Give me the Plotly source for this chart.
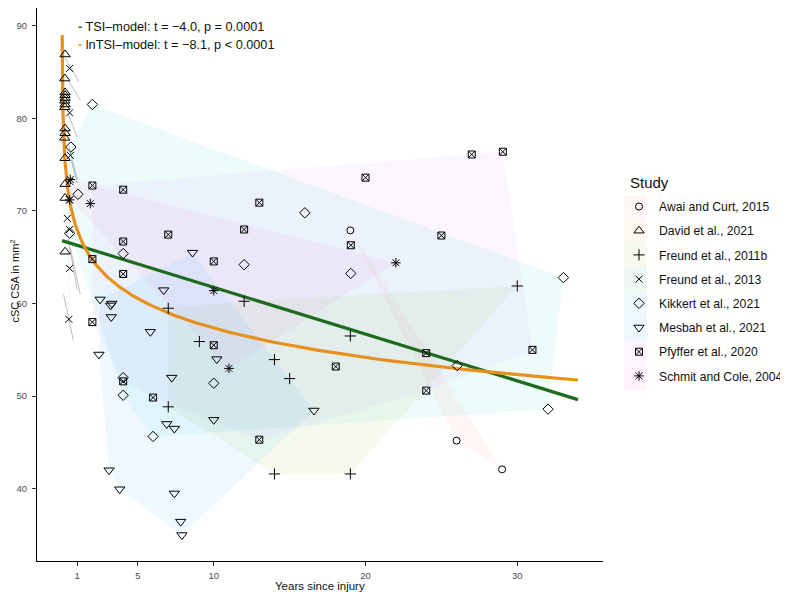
import plotly.graph_objects as go
import numpy as np

# ---------------- data ----------------
studies = ["Awai and Curt, 2015", "David et al., 2021", "Freund et al., 2011b",
           "Freund et al., 2013", "Kikkert et al., 2021", "Mesbah et al., 2021",
           "Pfyffer et al., 2020", "Schmit and Cole, 2004"]
colors = ["#F8766D", "#CD9600", "#7CAE00", "#00BE67", "#00BFC4", "#00A9FF", "#C77CFF", "#FF61CC"]
symbols = ["circle-open", "triangle-up-open", "cross-thin-open", "x-thin-open",
           "diamond-open", "triangle-down-open", "square-x-open", "asterisk-open"]
sizes = [7, 9, 8, 7, 8, 9, 7, 8]

awai_x = [19.0, 26.0, 29.0]
awai_y = [67.9, 45.2, 42.1]

david_x = [0.2, 0.18, 0.2, 0.2, 0.2, 0.18, 0.2, 0.18, 0.2, 0.2, 0.18, 0.2, 0.2, 0.2, 0.2]
david_y = [86.9, 84.3, 82.8, 82.5, 82.2, 81.9, 81.5, 81.2, 78.9, 78.4, 77.9, 75.7, 72.9, 71.4, 65.6]

freund11_x = [7.0, 9.05, 12.0, 14.0, 15.0, 7.0, 14.0, 19.0, 30.0, 19.0]
freund11_y = [59.5, 55.9, 60.25, 53.95, 51.9, 48.85, 41.6, 56.5, 61.9, 41.6]

freund13_x = [0.5, 0.5, 0.55, 0.5, 0.35, 0.5, 0.5, 0.45, 0.5]
freund13_y = [85.4, 80.6, 76.0, 73.2, 69.2, 68.0, 63.8, 58.3, 71.2]

kikkert_x = [0.58, 0.5, 1.05, 2.0, 4.03, 4.03, 4.03, 6.0, 10.0, 12.0, 16.0, 19.03, 26.04, 32.03, 33.04]
kikkert_y = [76.9, 67.6, 71.8, 81.5, 65.4, 52.0, 50.1, 45.65, 51.4, 64.2, 69.8, 63.25, 53.3, 48.6, 62.8]

mesbah_x = [2.51, 3.28, 3.2, 3.24, 2.43, 5.82, 6.7, 8.6, 10.2, 7.23, 6.9, 7.4, 10.0, 3.1, 3.8, 7.4, 7.82, 7.9, 16.6]
mesbah_y = [60.45, 60.0, 59.8, 58.55, 54.5, 56.95, 61.45, 65.5, 54.0, 52.0, 47.0, 46.5, 47.45, 42.0, 39.95, 39.5, 36.45, 35.0, 48.45]

pfyffer_x = [2.0, 4.03, 13.0, 12.0, 7.0, 4.03, 10.0, 2.0, 4.03, 2.0, 10.0, 4.03, 6.0, 13.0,
             27.0, 29.05, 20.0, 25.0, 19.03, 31.0, 24.0, 18.04, 24.0]
pfyffer_y = [72.75, 72.3, 70.9, 68.0, 67.45, 66.7, 64.55, 64.8, 63.2, 58.0, 55.5, 51.6, 49.85, 45.3,
             76.1, 76.4, 73.6, 67.35, 66.3, 55.0, 54.65, 53.2, 50.6]

schmit_x = [0.54, 0.5, 1.86, 10.0, 11.0, 22.0]
schmit_y = [73.4, 71.2, 70.8, 61.4, 53.0, 64.4]

study_x = [awai_x, david_x, freund11_x, freund13_x, kikkert_x, mesbah_x, pfyffer_x, schmit_x]
study_y = [awai_y, david_y, freund11_y, freund13_y, kikkert_y, mesbah_y, pfyffer_y, schmit_y]

# thin grey connecting lines (start x, start y, end x, end y)
seg_x0 = [0.2, 0.45, 0.4, 0.45, 0.6, 0.4, 0.55, 0.1]
seg_y0 = [86.5, 84.0, 80.5, 77.0, 75.5, 67.0, 66.0, 61.0]
seg_x1 = [1.1, 1.2, 1.0, 1.0, 1.0, 1.0, 1.2, 0.75]
seg_y1 = [84.0, 82.0, 78.0, 73.4, 73.0, 61.5, 61.0, 56.0]

# model fits
tsi_intercept, tsi_slope = 66.8, -0.505
ln_intercept, ln_slope = 67.9, -4.58
fit_x_min, fit_x_max = 0.0, 34.0
ln_x_min = 0.01

x_ticks = [1, 5, 10, 20, 30]
y_ticks = [40, 50, 60, 70, 80, 90]
model_labels = ["TSI–model: t = −4.0, p = 0.0001", "lnTSI–model: t = −8.1, p < 0.0001"]
model_colors = ["#1E6B1E", "#E8901C"]

# ---------------- layout geometry (figure pixels) ----------------
W, H = 780, 584
PL, PR, PT, PB = 29, 596, 0, 553   # plot area edges in figure pixels
OFF = 8                              # page body margin


def px(sx):
    return (sx - OFF - PL) / (PR - PL)


def py(sy):
    return (PB - (sy - OFF)) / (PB - PT)


def rgba(hexc, a):
    h = hexc.lstrip("#")
    return "rgba(%d,%d,%d,%.3f)" % (int(h[0:2], 16), int(h[2:4], 16), int(h[4:6], 16), a)


def hull(xs, ys):
    pts = sorted(set(zip(xs, ys)))
    if len(pts) < 3:
        return pts

    def cross(o, a, b):
        return (a[0] - o[0]) * (b[1] - o[1]) - (a[1] - o[1]) * (b[0] - o[0])

    lower = []
    for p in pts:
        while len(lower) >= 2 and cross(lower[-2], lower[-1], p) <= 0:
            lower.pop()
        lower.append(p)
    upper = []
    for p in reversed(pts):
        while len(upper) >= 2 and cross(upper[-2], upper[-1], p) <= 0:
            upper.pop()
        upper.append(p)
    return lower[:-1] + upper[:-1]


fig = go.Figure()

# hulls
for i in range(len(studies)):
    h = hull(study_x[i], study_y[i])
    hx = [p[0] for p in h] + [h[0][0]]
    hy = [p[1] for p in h] + [h[0][1]]
    fig.add_trace(go.Scatter(x=hx, y=hy, mode="lines", fill="toself",
                             fillcolor=rgba(colors[i], 0.065),
                             line=dict(width=0, color=rgba(colors[i], 0.0)),
                             hoverinfo="skip", showlegend=False))

# thin grey lines
for a, b, c, d in zip(seg_x0, seg_y0, seg_x1, seg_y1):
    fig.add_trace(go.Scatter(x=[a, c], y=[b, d], mode="lines",
                             line=dict(color="rgba(120,120,120,0.8)", width=0.6),
                             hoverinfo="skip", showlegend=False))

# model lines
lx = np.linspace(fit_x_min, fit_x_max, 50)
fig.add_trace(go.Scatter(x=lx, y=tsi_intercept + tsi_slope * lx, mode="lines",
                         line=dict(color=model_colors[0], width=3.2), showlegend=False))
cx = np.exp(np.linspace(np.log(ln_x_min), np.log(fit_x_max), 400))
fig.add_trace(go.Scatter(x=cx, y=ln_intercept + ln_slope * np.log(cx), mode="lines",
                         line=dict(color=model_colors[1], width=3.2), showlegend=False))

# points
for i in range(len(studies)):
    fig.add_trace(go.Scatter(
        x=study_x[i], y=study_y[i], mode="markers", name=studies[i],
        legendgroup=studies[i],
        marker=dict(symbol=symbols[i], size=sizes[i], color="black",
                    line=dict(color="black", width=1)),
    ))

FONT = "Liberation Sans, Arial, sans-serif"

# model annotations
for k, sy in enumerate([27.0, 45.0]):
    fig.add_annotation(
        xref="paper", yref="paper", x=px(76), y=py(sy),
        xanchor="left", yanchor="middle", showarrow=False,
        text="<span style='color:%s'><b>-</b></span> %s" % (model_colors[k], model_labels[k]),
        font=dict(size=12.7, color="#111111", family=FONT),
    )

# axis titles
fig.add_annotation(xref="paper", yref="paper", x=px(320.5), y=py(585.5), xanchor="center",
                   yanchor="middle", showarrow=False, text="Years since injury",
                   font=dict(size=11.5, color="#111111", family=FONT))
fig.add_annotation(xref="paper", yref="paper", x=px(14.5), y=py(281), xanchor="center",
                   yanchor="middle", showarrow=False, textangle=-90,
                   text="cSC CSA in mm<sup>2</sup>",
                   font=dict(size=11, color="#111111", family=FONT))
# legend title
fig.add_annotation(xref="paper", yref="paper", x=px(629), y=py(182), xanchor="left",
                   yanchor="middle", showarrow=False, text="Study",
                   font=dict(size=15, color="#111111", family=FONT))

# faint coloured legend key backgrounds
key_top, key_step = 195.0, 24.4
for i in range(len(studies)):
    fig.add_shape(type="rect", xref="paper", yref="paper", layer="below",
                  x0=px(625), x1=px(648), y0=py(key_top + key_step * (i + 1)),
                  y1=py(key_top + key_step * i),
                  fillcolor=rgba(colors[i], 0.07), line=dict(width=0))

fig.update_layout(
    width=W, height=H,
    margin=dict(l=PL, r=W - PR, t=PT, b=H - PB),
    paper_bgcolor="white", plot_bgcolor="white",
    font=dict(family=FONT, color="#111111"),
    showlegend=True,
    legend=dict(x=px(620), y=py(192), xanchor="left", yanchor="top",
                font=dict(size=12.2, color="#111111"),
                tracegroupgap=5.2, bgcolor="rgba(0,0,0,0)"),
)
fig.update_xaxes(range=[-1.65, 35.65], tickvals=x_ticks, showgrid=False, zeroline=False,
                 showline=True, linecolor="black", linewidth=1.2, ticks="outside",
                 ticklen=4, tickcolor="#333333", tickfont=dict(size=9.5, color="#4D4D4D"),
                 ticklabelstandoff=1)
fig.update_yaxes(range=[32.2, 91.92], tickvals=y_ticks, showgrid=False, zeroline=False,
                 showline=True, linecolor="black", linewidth=1.2, ticks="outside",
                 ticklen=4, tickcolor="#333333", tickfont=dict(size=9.5, color="#4D4D4D"),
                 ticklabelstandoff=3)

fig.write_html("out.html")
